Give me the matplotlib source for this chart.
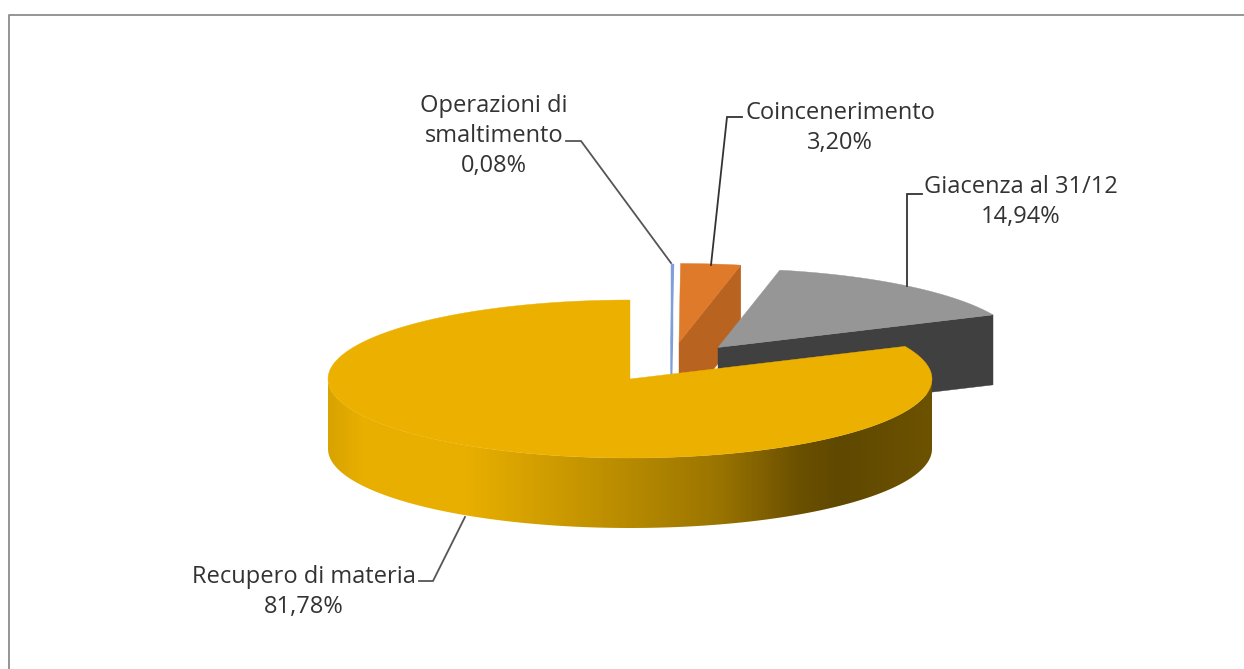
import numpy as np
import matplotlib
matplotlib.use('Agg')
import matplotlib.pyplot as plt
from matplotlib.colors import LinearSegmentedColormap
from matplotlib.patches import Polygon

# Slices, clockwise from 12 o'clock
categories = ['Operazioni di\nsmaltimento', 'Coincenerimento', 'Giacenza al 31/12', 'Recupero di materia']
values = [0.08, 3.20, 14.94, 81.78]
value_labels = ['0,08%', '3,20%', '14,94%', '81,78%']

top_colors = ['#7F9FD8', '#DF7A2A', '#969696', '#ECB100']
side_colors = ['#7F9FD8', '#B8631F', '#404040', '#6A5000']

# Pie projection in pixels
rx, ry, depth = 302, 79, 70
# Where each slice's apex sits (exploded slices are moved away from the main one)
centers = [(671, 343), (679, 342.5), (718, 347.5), (630, 379)]

plt.rcParams['font.family'] = ['Open Sans', 'DejaVu Sans']

fig = plt.figure(figsize=(12.44, 6.69), dpi=100)
ax = fig.add_axes([0, 0, 1, 1])


def arc(cx, cy, a0, a1, n=200):
    t = np.radians(np.linspace(a0, a1, n))
    return np.column_stack([cx + rx * np.sin(t), cy - ry * np.cos(t)])


# Frame of the chart area (only top and left survive in the picture)
ax.plot([8.5, 8.5, 1244], [669, 14.5, 14.5], color='#8C8C8C', lw=1.3, zorder=1)

start = 0
for i, v in enumerate(values):
    end = start + v * 3.6
    cx, cy = centers[i]
    z = 2 + i
    outer = arc(cx, cy, start, end)
    apex = np.array([[cx, cy]])
    drop = np.array([0, depth])

    if i < 3:
        # face cut along the end of the slice, the only side visible here
        p_end = outer[-1:]
        face = np.vstack([apex, p_end, p_end + drop, apex + drop])
        ax.add_patch(Polygon(face, closed=True, fc=side_colors[i], ec=side_colors[i],
                             lw=1.0 if i == 0 else 0.3, zorder=z))
    else:
        # front wall with its horizontal shading
        front = arc(cx, cy, 90, 270)
        wall = np.vstack([front, (front + drop)[::-1]])
        patch = Polygon(wall, closed=True, fc='none', ec='none', zorder=z)
        ax.add_patch(patch)
        cmap = LinearSegmentedColormap.from_list('wall', [
            (0.00, '#D9A400'), (0.05, '#E8AE00'), (0.22, '#EAB000'),
            (0.40, '#C99800'), (0.65, '#9A7400'), (0.78, '#6B5000'),
            (0.85, '#5F4800'), (1.00, '#6C5200')])
        im = ax.imshow(np.linspace(0, 1, 300).reshape(1, -1), cmap=cmap, aspect='auto',
                       extent=(cx - rx, cx + rx, cy + ry + depth, cy), zorder=z)
        im.set_clip_path(patch)

    ax.add_patch(Polygon(np.vstack([apex, outer]), closed=True, fc=top_colors[i],
                         ec=top_colors[i], lw=1.0 if i == 0 else 0.3, zorder=z + 0.5))
    start = end

# Leader lines
leader_x = [[566, 581, 671], [742, 727, 711], [922, 907, 907], [419, 433, 465]]
leader_y = [[141, 141, 263], [117, 117, 265], [194, 194, 286], [581, 581, 517]]
leader_colors = ['#555555', '#333333', '#333333', '#555555']
for lx, ly, lc in zip(leader_x, leader_y, leader_colors):
    ax.plot(lx, ly, color=lc, lw=1.3, zorder=8, solid_joinstyle='miter')

# Labels
label_x = [494, 840, 1021, 304]
label_y = [172, 149, 223, 613]
for name, val, x, y in zip(categories, value_labels, label_x, label_y):
    ax.text(x, y, name + '\n' + val, ha='center', va='baseline', multialignment='center',
            fontsize=17, color='#333333', linespacing=1.32, zorder=9)

ax.set_xlim(0, 1244)
ax.set_ylim(669, 0)
ax.axis('off')

fig.savefig('out.png', dpi=100, facecolor='white')
